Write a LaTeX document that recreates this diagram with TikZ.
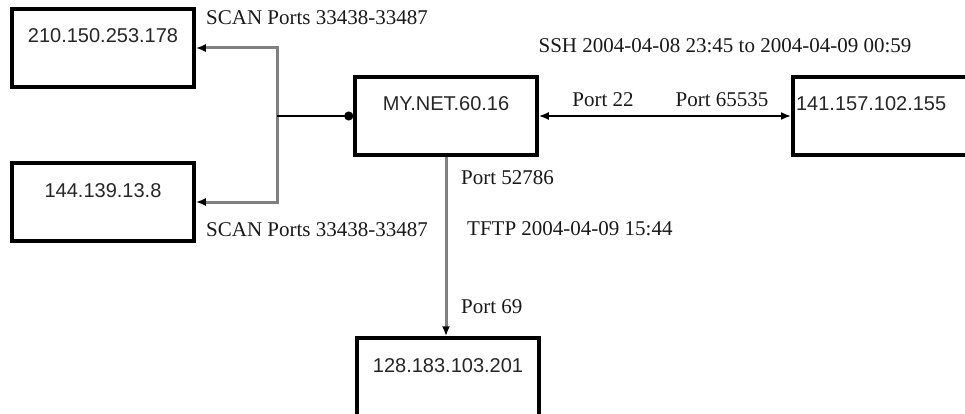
\documentclass[tikz,border=0pt]{standalone}
\usepackage{fontspec}
\setmainfont{Liberation Serif}
\setsansfont{Liberation Sans}
\usetikzlibrary{arrows.meta,positioning}

\begin{document}
\begin{tikzpicture}[x=1pt,y=-1pt,
		host/.style={draw,line width=3.5pt,font=\sffamily\fontsize{20}{24}\selectfont,text=black!85,
			minimum width=182pt,text height=34pt,text depth=44pt,inner ysep=0pt,anchor=base},
		lbl/.style={font=\fontsize{21}{25}\selectfont,text=black!90,inner sep=0pt},
		scan/.style={draw=black!50,line width=3pt,-{Latex[color=black,length=10pt,width=8pt]}},
		link/.style={line width=1.8pt}]
		% Frame
		\useasboundingbox (0,0) rectangle (965,414);
		\clip (0,0) rectangle (965,414);
		
		% Hosts
		\node[host] (A) at (103,43) {210.150.253.178};
		\node[host] (B) at (103,197) {144.139.13.8};
		\node[host] (M) at (446,111) {MY.NET.60.16};
		\node[host,anchor=base west,text width=176pt,align=left] (R) at (791,111) {141.157.102.155};
		\node[host] (D) at (448,372) {128.183.103.201};
		
		% Scan fan-out
		\coordinate[left=76pt of M.west] (jn);
		\draw[scan] (jn) |- (A.east);
		\draw[scan] (jn) |- (B.east);
		\draw[link,-{Circle[length=9pt]}] (jn) -- (M.west);
		
		% SSH session
		\draw[link,{Latex[length=10pt,width=8pt]}-{Latex[length=10pt,width=8pt]}] (M.east) -- (R.west);
		
		% TFTP transfer
		\draw[scan] (M.south) -- (M.south |- D.north);
		
		% Labels
		\node[lbl,anchor=west] (scan1) at (206,18) {SCAN Ports 33438-33487};
		\node[lbl,anchor=west] (scan2) at (206,230) {SCAN Ports 33438-33487};
		\node[lbl] (ssh) at (725,46) {SSH 2004-04-08 23:45 to 2004-04-09 00:59};
		\node[lbl] (p22) at (603,100) {Port 22};
		\node[lbl] (p65535) at (722,100) {Port 65535};
		\node[lbl,anchor=west] (p52786) at (461,178) {Port 52786};
		\node[lbl,anchor=west] (tftp) at (467,229) {TFTP 2004-04-09 15:44};
		\node[lbl,anchor=west] (p69) at (461,307) {Port 69};
	\end{tikzpicture}
\end{document}
